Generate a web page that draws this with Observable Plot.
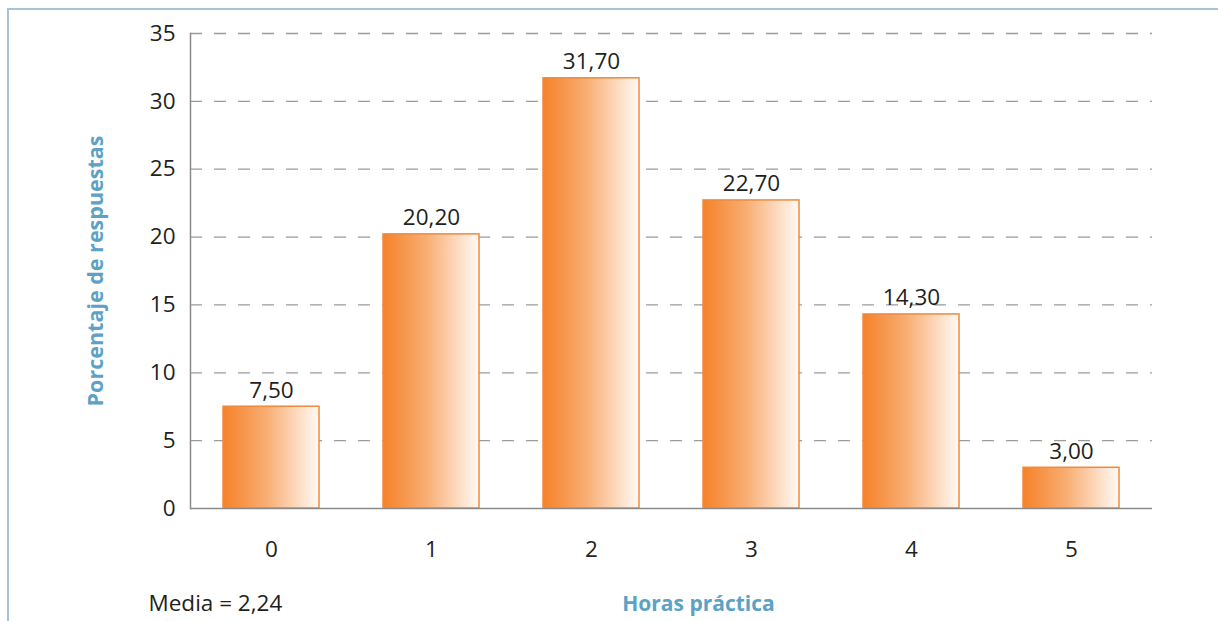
<!DOCTYPE html>
<html>
<head>
<meta charset="utf-8">
<script src="https://cdn.jsdelivr.net/npm/d3@7"></script>
<script src="https://cdn.jsdelivr.net/npm/@observablehq/plot@0.6"></script>
<style>
  html, body { margin: 0; padding: 0; background: #fff; }
  #wrap { position: relative; width: 1218px; height: 621px; overflow: hidden; }
  #border { position: absolute; left: 7px; top: 8px; right: -4px; bottom: -4px;
            border-left: 2px solid #a9c3d6; border-top: 2px solid #a9c3d6; }
  #chart { position: absolute; left: 0; top: 0; }
  svg text { font-family: "Open Sans", sans-serif; }
</style>
</head>
<body>
<div id="wrap"><div id="border"></div><div id="chart"></div></div>
<script>
// Horas de práctica (categorías) y porcentaje de respuestas
const hours = ["0", "1", "2", "3", "4", "5"];
const percents = [7.5, 20.2, 31.7, 22.7, 14.3, 3.0];
const yTicks = [0, 5, 10, 15, 20, 25, 30, 35];
const xTitle = "Horas práctica";
const yTitle = "Porcentaje de respuestas";
const meanNote = "Media = 2,24";

const rows = hours.map((h, i) => ({hour: h, pct: percents[i]}));
const fmt = v => v.toFixed(2).replace(".", ",");

// horizontal orange-to-white fill used by every bar
const gradientDefs = () => {
  const ns = "http://www.w3.org/2000/svg";
  const defs = document.createElementNS(ns, "defs");
  const lg = document.createElementNS(ns, "linearGradient");
  lg.setAttribute("id", "barGrad");
  lg.setAttribute("x1", "0"); lg.setAttribute("x2", "1");
  lg.setAttribute("y1", "0"); lg.setAttribute("y2", "0");
  [["0%", "#f5822a"], ["45%", "#f8ad72"], ["100%", "#fffaf5"]].forEach(([o, c]) => {
    const s = document.createElementNS(ns, "stop");
    s.setAttribute("offset", o); s.setAttribute("stop-color", c);
    lg.appendChild(s);
  });
  defs.appendChild(lg);
  return defs;
};

const chart = Plot.plot({
  width: 1218,
  height: 621,
  marginLeft: 190,
  marginRight: 66,
  marginTop: 33,
  marginBottom: 113,
  style: {fontFamily: "Open Sans, sans-serif", background: "transparent", overflow: "visible"},
  x: {domain: hours, paddingInner: 0.4, paddingOuter: 0.2, label: null},
  y: {domain: [0, 35], label: null},
  marks: [
    gradientDefs,
    Plot.ruleY(yTicks.filter(t => t > 0), {stroke: "#9a9a9a", strokeWidth: 1.3, strokeDasharray: "12,12"}),
    Plot.barY(rows, {x: "hour", y: "pct", fill: "url(#barGrad)", stroke: "#f08a3c", strokeWidth: 1.5}),
    Plot.ruleY([0], {stroke: "#8a8a8a", strokeWidth: 1.5}),
    Plot.frame({anchor: "left", stroke: "#8a8a8a", strokeWidth: 1.5}),
    Plot.axisY({ticks: yTicks, tickSize: 0, tickPadding: 15, fontSize: 22.5, fill: "#231f20", label: null}),
    Plot.axisX({tickSize: 0, tickPadding: 33, fontSize: 22.5, fill: "#231f20", label: null}),
    Plot.text(rows, {x: "hour", y: "pct", text: d => fmt(d.pct), lineAnchor: "bottom", dy: -9, fontSize: 22.5, fill: "#231f20"}),
    Plot.text([yTitle], {frameAnchor: "left", textAnchor: "middle", dx: -94, rotate: -90, fontSize: 21.5, fontWeight: "bold", fill: "#5ba2c6"}),
    Plot.text([xTitle], {frameAnchor: "bottom", textAnchor: "middle", dx: 27, dy: 102, fontSize: 21, fontWeight: "bold", fill: "#5ba2c6"}),
    Plot.text([meanNote], {frameAnchor: "bottom-left", textAnchor: "start", dx: -42, dy: 102, fontSize: 22.5, fill: "#231f20"})
  ]
});
document.getElementById("chart").appendChild(chart);
</script>
</body>
</html>
